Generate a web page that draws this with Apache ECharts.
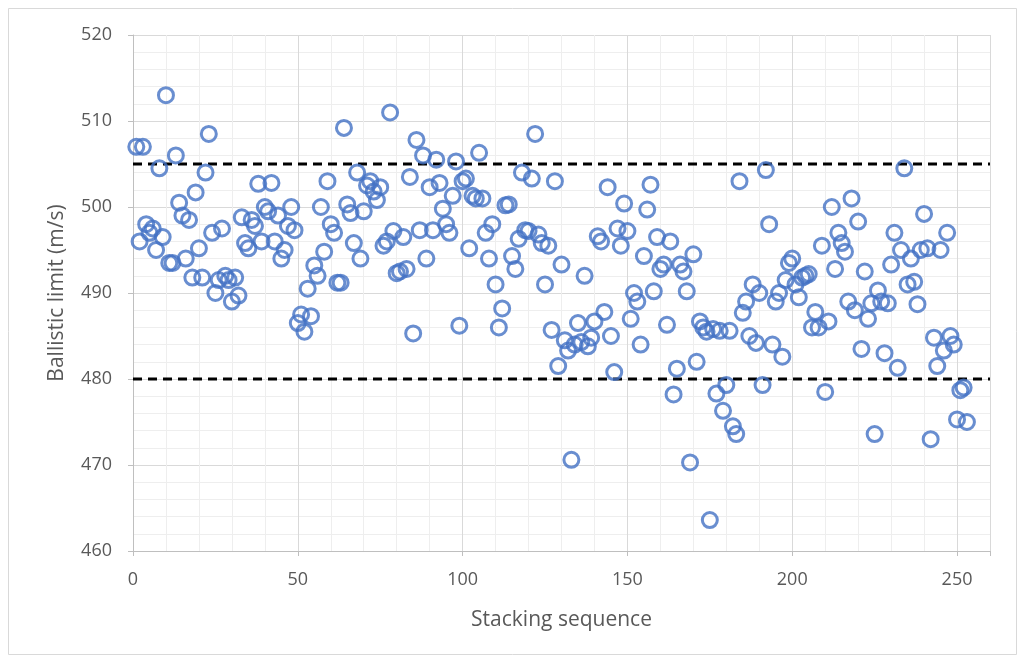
<!DOCTYPE html>
<html><head><meta charset="utf-8">
<script src="https://cdn.jsdelivr.net/npm/echarts@6/dist/echarts.min.js"></script>
<style>html,body{margin:0;padding:0;background:#fff}#c{width:1025px;height:661px}</style>
</head><body><div id="c"></div>
<script>
const xTitle = "Stacking sequence";
const yTitle = "Ballistic limit (m/s)";
const upperLimit = 505;
const lowerLimit = 480;
const ballisticLimit = [
507,496,507,498,497,497.5,495,504.5,496.5,513,
493.5,493.5,506,500.5,499,494,498.5,491.8,501.7,495.2,
491.8,504,508.5,497,490,491.5,497.5,492,491.5,489,
491.8,489.7,498.8,495.8,495.2,498.5,497.8,502.7,496,500,
499.5,502.8,496,499,494,495,497.8,500,497.3,486.5,
487.5,485.5,490.5,487.3,493.2,492,500,494.8,503,498,
497,491.2,491.2,509.2,500.3,499.3,495.8,504,494,499.5,
502.5,503,501.8,500.8,502.3,495.5,496,511,497.2,492.3,
492.5,496.5,492.8,503.5,485.3,507.8,497.3,506,494,502.3,
497.3,505.5,502.8,499.8,498,497,501.3,505.3,486.2,503,
503.3,495.2,501.3,501,506.3,501,497,494,498,491,
486,488.2,500.2,500.3,494.3,492.8,496.3,504,497.3,497.2,
503.3,508.5,496.8,495.8,491,495.5,485.7,503,481.5,493.3,
484.5,483.3,470.6,484,486.5,484.3,492,483.8,484.8,486.7,
496.6,496,487.8,502.3,485,480.8,497.5,495.5,500.4,497.2,
487,490,489,484,494.3,499.7,502.6,490.2,496.5,492.8,
493.3,486.3,496,478.2,481.2,493.3,492.5,490.2,470.3,494.5,
482,486.7,486,485.5,463.6,485.8,478.3,485.6,476.3,479.3,
485.6,474.5,473.6,503,487.7,489,485,491,484.2,490,
479.3,504.3,498,484,489,490,482.6,491.5,493.5,494,
491,489.5,491.8,492,492.2,486,487.8,486,495.5,478.5,
486.7,500,492.8,497,495.8,494.8,489,501,488,498.3,
483.5,492.5,487,488.8,473.6,490.3,489,483,488.8,493.3,
497,481.3,495,504.5,491,494,491.3,488.7,495,499.2,
495.2,473,484.8,481.5,495,483.3,497,485,484,475.3,
478.7,479,475
];
const xTicks = [0,50,100,150,200,250];
const yTicks = [460,470,480,490,500,510,520];

const pts = ballisticLimit.map((v,i)=>[i+1,v]);
const chart = echarts.init(document.getElementById('c'));
const font = '"Open Sans", Lato, sans-serif';
chart.setOption({
  animation:false,
  backgroundColor:'#fff',
  graphic:[{type:'rect',shape:{x:8.5,y:8.5,width:1008,height:646},style:{fill:'none',stroke:'#D9D9D9',lineWidth:1},z:-10}],
  grid:{left:133,right:35,top:35,bottom:110},
  xAxis:{type:'value',min:0,max:260,interval:50,
    name:xTitle,nameLocation:'middle',nameGap:59,
    nameTextStyle:{fontFamily:font,fontSize:21,color:'#595959'},
    axisLabel:{fontFamily:font,fontSize:18,color:'#595959',margin:20,
      formatter:v=>xTicks.includes(v)?String(v):''},
    axisLine:{show:true,lineStyle:{color:'#BFBFBF',width:1}},
    axisTick:{show:true,length:5,lineStyle:{color:'#BFBFBF'}},
    splitLine:{show:true,lineStyle:{color:'#D9D9D9',width:1}},
    minorTick:{show:false,splitNumber:5},
    minorSplitLine:{show:true,lineStyle:{color:'#EEEEEE',width:1}}},
  yAxis:{type:'value',min:460,max:520,interval:10,
    name:yTitle,nameLocation:'middle',nameGap:65,
    nameTextStyle:{fontFamily:font,fontSize:21,color:'#595959'},
    axisLabel:{fontFamily:font,fontSize:18,color:'#595959',margin:21,
      formatter:v=>yTicks.includes(v)?String(v):''},
    axisLine:{show:true,lineStyle:{color:'#BFBFBF',width:1}},
    axisTick:{show:true,length:5,lineStyle:{color:'#BFBFBF'}},
    splitLine:{show:true,lineStyle:{color:'#D9D9D9',width:1}},
    minorTick:{show:false,splitNumber:5},
    minorSplitLine:{show:true,lineStyle:{color:'#EEEEEE',width:1}}},
  series:[
    {type:'line',data:[[0,upperLimit],[260,upperLimit]],symbol:'none',
      lineStyle:{color:'#000',width:3,type:[9,6]},z:1,silent:true},
    {type:'line',data:[[0,lowerLimit],[260,lowerLimit]],symbol:'none',
      lineStyle:{color:'#000',width:3,type:[9,6]},z:1,silent:true},
    {type:'scatter',data:pts,symbol:'circle',symbolSize:15,
      itemStyle:{color:'rgba(0,0,0,0)',borderColor:'#4472C4',borderWidth:3},z:3}
  ]
});
</script></body></html>
